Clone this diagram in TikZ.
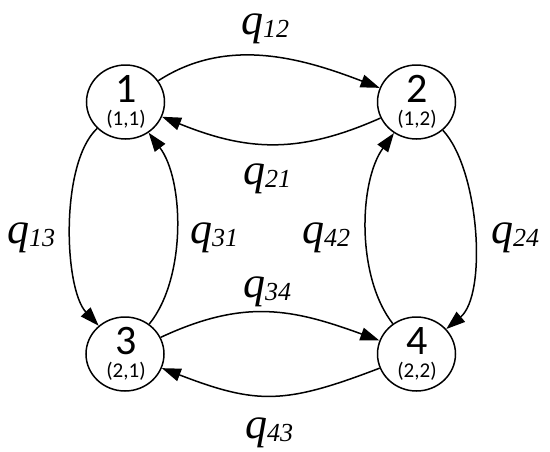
\documentclass[tikz,border=0pt]{standalone}
\usepackage{fontspec}
\setmainfont{Liberation Serif}
\newfontfamily\numfont{Carlito}
\usetikzlibrary{arrows.meta,shapes.geometric}
\newcommand\qlab[1]{\fontsize{44}{44}\selectfont\itshape q\raisebox{-3pt}{\fontsize{26}{26}\selectfont #1}}
\begin{document}
\begin{tikzpicture}[x=1pt,y=-1pt,
  state/.style={ellipse,draw,line width=1.5pt,minimum width=78pt,minimum height=74pt,inner sep=0pt},
  bignum/.style={anchor=base,inner sep=0pt,font=\numfont\fontsize{42}{42}\selectfont},
  smallnum/.style={anchor=base,inner sep=0pt,font=\numfont\fontsize{21}{21}\selectfont},
  qnode/.style={anchor=base west,inner sep=0pt},
  arr/.style={line width=1.5pt,-{Triangle[length=19pt,width=13pt]}}]
\useasboundingbox (0,0) rectangle (550,451);
\node[state] (n1) at (125.5,102) {};
\node[state] (n2) at (416.5,102) {};
\node[state] (n3) at (125,354) {};
\node[state] (n4) at (416.5,354) {};
\node[bignum] (t1) at (126.5,102) {1};
\node[smallnum] (s1) at (126,125) {(1,1)};
\node[bignum] (t2) at (417,102) {2};
\node[smallnum] (s2) at (417,125) {(1,2)};
\node[bignum] (t3) at (126,354) {3};
\node[smallnum] (s3) at (126,377) {(2,1)};
\node[bignum] (t4) at (417,354) {4};
\node[smallnum] (s4) at (417,377) {(2,2)};
\draw[arr] (n1) to[out=33,in=159,looseness=0.95] (n2);
\draw[arr] (n2) to[out=204,in=338,looseness=1.06] (n1);
\draw[arr] (n1) to[out=223,in=133,looseness=0.66] (n3);
\draw[arr] (n3) to[out=51,in=-53,looseness=0.79] (n1);
\draw[arr] (n4) to[out=128,in=234,looseness=0.8] (n2);
\draw[arr] (n2) to[out=-47,in=40,looseness=0.69] (n4);
\draw[arr] (n3) to[out=25,in=160,looseness=1.08] (n4);
\draw[arr] (n4) to[out=201,in=339,looseness=1.2] (n3);
\node[qnode] (q12) at (241,34) {\qlab{12}};
\node[qnode] (q21) at (243,184) {\qlab{21}};
\node[qnode] (q13) at (7,243) {\qlab{13}};
\node[qnode] (q31) at (190,243) {\qlab{31}};
\node[qnode] (q42) at (302,243) {\qlab{42}};
\node[qnode] (q24) at (491,243) {\qlab{24}};
\node[qnode] (q34) at (243,297) {\qlab{34}};
\node[qnode] (q43) at (245,438) {\qlab{43}};
\end{tikzpicture}
\end{document}
